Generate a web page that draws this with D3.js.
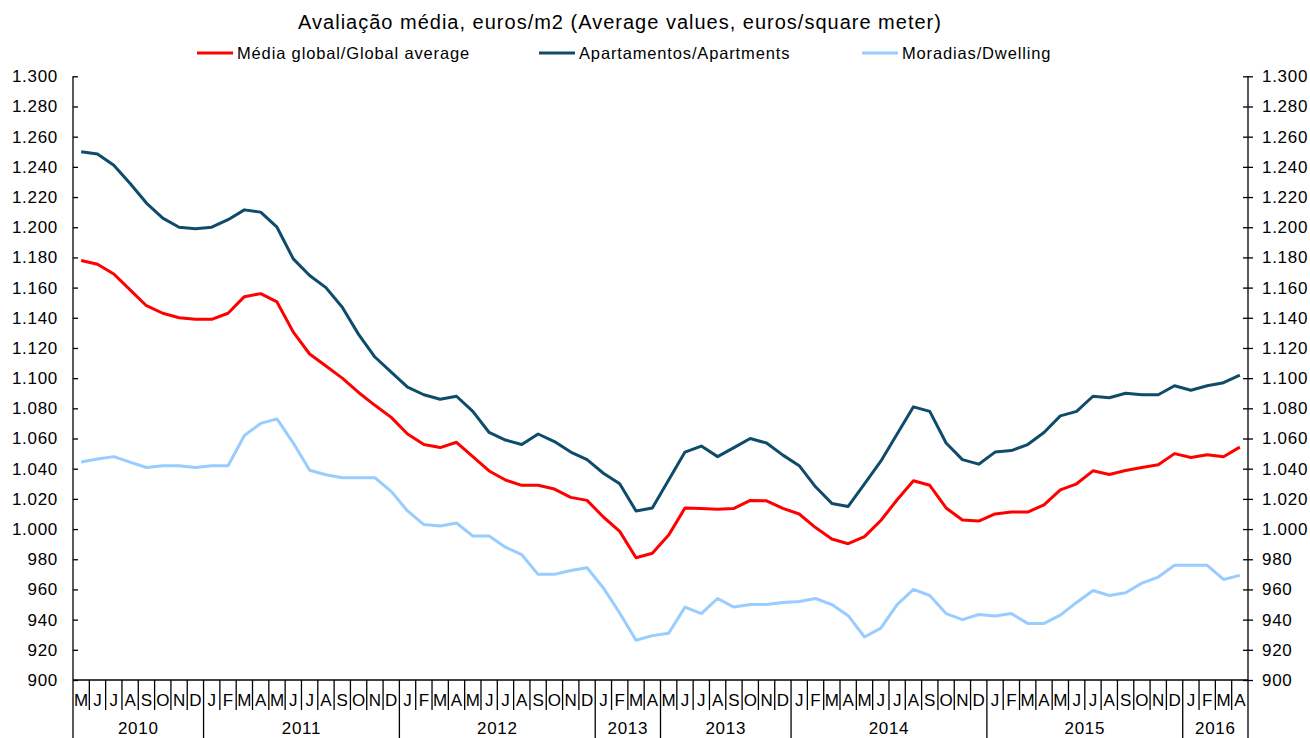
<!DOCTYPE html>
<html>
  <head>
    <meta charset="utf-8">
    <title>Avaliação média</title>
    <script src="https://d3js.org/d3.v7.min.js"></script>
    <style>
      body { margin: 0; background: #fff; }
      svg { display: block; font-family: "Liberation Sans", Arial, sans-serif; }
      .axis text { font-size: 17px; letter-spacing: 0.7px; fill: #000; }
      .axis path, .axis line { stroke: #000; stroke-width: 1.3; }
    </style>
  </head>
  <body>
    <svg id="chart" width="1310" height="738"></svg>
    <script>
      // data, May 2010 to April 2016
      var yearLabels = ["2010", "2011", "2012", "2013", "2013", "2014", "2015", "2016"];
      var yearMonths = ["MJJASOND", "JFMAMJJASOND", "JFMAMJJASOND", "JFMA", "MJJASOND", "JFMAMJJASOND", "JFMAMJJASOND", "JFMA"];
      var globalAvg = [1178, 1175.5, 1169, 1158.5, 1148, 1143, 1140, 1139, 1139, 1143,
        1154, 1156, 1150.5, 1130.5, 1116, 1108, 1100, 1090.5, 1082, 1074,
        1063, 1056, 1054, 1057.5, 1048, 1038.5, 1032.5, 1029, 1029, 1026.5,
        1021, 1019, 1008, 998.5, 981, 984, 996, 1014, 1013.7, 1013.2,
        1013.7, 1019, 1018.7, 1013.7, 1010, 1001, 993.4, 990.3, 995, 1005.7,
        1019.4, 1032, 1029, 1014, 1006, 1005.3, 1010, 1011.3, 1011.3, 1016,
        1026, 1030, 1038.6, 1036.2, 1038.8, 1040.8, 1042.6, 1050, 1047.4, 1049.2,
        1047.9, 1054.3];
      var apartments = [1250, 1248.5, 1241, 1229, 1216, 1206, 1200, 1199, 1200, 1205,
        1211.5, 1210, 1200, 1179, 1168, 1160, 1147, 1129, 1114, 1104,
        1094, 1089, 1086, 1088, 1078, 1064, 1059, 1056, 1063, 1058,
        1051, 1046, 1037, 1030, 1012, 1014, 1032.5, 1051, 1055, 1048,
        1054, 1060, 1057, 1049, 1042, 1028, 1017, 1015, 1030, 1045,
        1063, 1081, 1078, 1057, 1046, 1043, 1051, 1052, 1056, 1064,
        1075, 1078, 1088, 1087, 1090, 1089, 1089, 1095, 1092, 1095,
        1097, 1102];
      var dwellings = [1044.4, 1046.4, 1048, 1044.4, 1040.8, 1042, 1042, 1040.8, 1042, 1042,
        1062, 1070, 1073, 1057, 1039, 1036, 1034, 1034, 1034, 1025,
        1012, 1003, 1002, 1004, 995.4, 995.4, 988, 983, 970, 970,
        972.6, 974.4, 961, 944.4, 926.3, 929.4, 931, 948.3, 944, 954,
        948.3, 950, 950, 951.4, 952, 954, 950, 942.6, 928.5, 934.4,
        950, 960, 956, 944, 940, 943.4, 942.4, 944, 937.5, 937.5,
        943, 951.4, 959.3, 956, 957.8, 964.2, 968.2, 976, 976, 976,
        966.6, 969.3];
      var seriesNames = ["Média global/Global average", "Apartamentos/Apartments", "Moradias/Dwelling"];
      var seriesColors = ["#ff0000", "#0f4b6a", "#99ccff"];
      var yTicks = d3.range(900, 1301, 20);

      // month letters and year groups
      var months = [];
      var groups = [];
      yearMonths.forEach(function(m, g) {
        groups.push({ label: yearLabels[g], start: months.length, end: months.length + m.length });
        m.split("").forEach(function(c) { months.push(c); });
      });

      var margin = { top: 76.3, right: 62, bottom: 58, left: 73 };
      var width = 1310, height = 738;
      var chart = d3.select("#chart");

      var x = d3.scaleBand()
        .domain(d3.range(months.length))
        .range([margin.left, width - margin.right]);
      var y = d3.scaleLinear()
        .domain([900, 1300])
        .range([height - margin.bottom, margin.top]);
      var fmt = d3.formatLocale({ decimal: ",", thousands: ".", grouping: [3], currency: ["", "€"] }).format(",");

      // y axes, ticks cross the line
      var yLeft = chart.append("g")
        .attr("class", "axis")
        .attr("transform", "translate(" + margin.left + ",0)")
        .call(d3.axisLeft(y).tickValues(yTicks).tickFormat(fmt).tickSizeOuter(0).tickSize(5).tickPadding(10));
      yLeft.selectAll(".tick line").attr("x2", 5);
      var yRight = chart.append("g")
        .attr("class", "axis")
        .attr("transform", "translate(" + (width - margin.right) + ",0)")
        .call(d3.axisRight(y).tickValues(yTicks).tickFormat(fmt).tickSizeOuter(0).tickSize(5).tickPadding(10));
      yRight.selectAll(".tick line").attr("x2", -5).attr("x1", 5);
      yRight.selectAll(".tick text").attr("x", 14);
      chart.selectAll(".axis .domain").remove();
      chart.selectAll(".axis").append("line")
        .attr("y1", y(1300)).attr("y2", y(900));

      // category axis
      var base = y(900);
      var xAxis = chart.append("g").attr("class", "axis");
      xAxis.append("line")
        .attr("x1", margin.left).attr("x2", width - margin.right)
        .attr("y1", base).attr("y2", base);
      xAxis.selectAll(".mtick")
        .data(d3.range(months.length + 1))
        .enter().append("line")
          .attr("x1", function(i) { return margin.left + i * x.bandwidth(); })
          .attr("x2", function(i) { return margin.left + i * x.bandwidth(); })
          .attr("y1", base)
          .attr("y2", function(i) {
            var isYear = groups.some(function(g) { return g.start == i || g.end == i; });
            return isYear ? height : base + 30;
          });
      xAxis.selectAll(".mlabel")
        .data(months)
        .enter().append("text")
          .attr("x", function(d, i) { return x(i) + x.bandwidth() / 2; })
          .attr("y", base + 26)
          .attr("text-anchor", "middle")
          .style("letter-spacing", "0")
          .text(function(d) { return d; });
      xAxis.selectAll(".ylabel")
        .data(groups)
        .enter().append("text")
          .attr("x", function(g) { return margin.left + (g.start + g.end) / 2 * x.bandwidth(); })
          .attr("y", height - 4)
          .attr("text-anchor", "middle")
          .text(function(g) { return g.label; });

      // lines
      var line = d3.line()
        .x(function(d, i) { return x(i) + x.bandwidth() / 2; })
        .y(function(d) { return y(d); });
      [globalAvg, apartments, dwellings].forEach(function(s, k) {
        chart.append("path")
          .attr("d", line(s))
          .attr("fill", "none")
          .attr("stroke", seriesColors[k])
          .attr("stroke-width", 3)
          .attr("stroke-linejoin", "round");
      });

      // title and legend
      chart.append("text")
        .attr("x", 620)
        .attr("y", 29)
        .attr("text-anchor", "middle")
        .style("font-size", "20px")
        .style("letter-spacing", "1px")
        .text("Avaliação média, euros/m2 (Average values, euros/square meter)");
      var legendX = [197, 539, 862];
      var legend = chart.selectAll(".legend")
        .data(seriesNames)
        .enter().append("g")
          .attr("transform", function(d, i) { return "translate(" + legendX[i] + ",53)"; });
      legend.append("line")
        .attr("x2", 36)
        .attr("stroke", function(d, i) { return seriesColors[i]; })
        .attr("stroke-width", 3);
      legend.append("text")
        .attr("x", 40)
        .attr("y", 6)
        .style("font-size", "16.5px")
        .style("letter-spacing", "0.85px")
        .text(function(d) { return d; });
    </script>
  </body>
</html>
